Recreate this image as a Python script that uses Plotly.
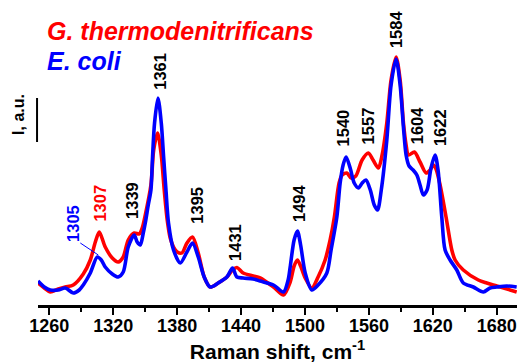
import plotly.graph_objects as go

# ---- data (Raman shift, cm-1 ; intensity, arbitrary units) ----
series_names = ["G. thermodenitrificans", "E. coli"]
series_colors = ["#FF0000", "#0000FF"]

wn_g = [1249.4, 1255.3, 1260.9, 1268.4, 1275.0, 1282.5, 1291.9, 1298.5, 1303.2, 1306.9,
        1312.5, 1319.1, 1324.7, 1329.4, 1334.1, 1339.7, 1344.4, 1347.2, 1350.1, 1355.4,
        1358.0, 1361.6, 1365.1, 1367.9, 1370.7, 1373.5, 1376.6, 1380.1, 1384.5, 1389.2,
        1394.4, 1399.8, 1405.4, 1411.0, 1418.5, 1426.7, 1432.0, 1436.1, 1442.0, 1451.4,
        1457.9, 1470.4, 1479.8, 1486.1, 1489.8, 1492.9, 1495.9, 1500.2, 1506.4, 1512.3,
        1518.9, 1523.6, 1527.6, 1532.0, 1534.9, 1539.3, 1543.3, 1547.7, 1553.6, 1559.5,
        1563.9, 1568.9, 1572.4, 1576.8, 1580.8, 1585.5, 1589.3, 1592.4, 1594.9, 1597.1,
        1602.7, 1608.0, 1613.7, 1617.4, 1620.5, 1623.0, 1626.8, 1632.4, 1637.8, 1640.9,
        1648.6, 1662.7, 1670.6, 1680.0, 1698.7]
int_g = [22, 17, 13, 16, 18, 20, 31, 45, 63, 73,
         58, 47, 43, 48, 65, 72, 71, 77, 90, 120,
         155, 172, 150, 115, 85, 67, 58, 53, 52, 62,
         68, 52, 28, 18, 22, 28, 35, 37.5, 32, 29,
         27, 18, 10, 23, 39, 45, 39, 27, 17, 28,
         45, 65, 88, 122, 130, 132, 127, 129, 145, 152,
         145, 137, 150, 182, 225, 248, 225, 182, 160, 150,
         153, 143, 132, 135, 140, 136, 120, 88, 55, 45,
         35, 25, 22, 19, 13]

wn_e = [1249.4, 1255.3, 1260.9, 1268.4, 1275.0, 1282.5, 1288.1, 1291.9, 1298.5, 1305.0,
        1308.8, 1312.5, 1319.1, 1324.7, 1329.4, 1334.1, 1339.7, 1342.5, 1345.4, 1348.2,
        1350.1, 1352.9, 1355.4, 1356.9, 1358.8, 1362.0, 1365.1, 1367.3, 1369.5, 1371.9,
        1376.6, 1382.9, 1389.2, 1394.4, 1399.8, 1405.4, 1411.0, 1418.5, 1426.7, 1432.0,
        1436.1, 1442.0, 1451.4, 1457.9, 1470.4, 1479.8, 1484.2, 1486.1, 1489.8, 1492.9,
        1495.9, 1500.2, 1506.4, 1512.3, 1520.5, 1524.5, 1529.9, 1533.0, 1535.8, 1538.6,
        1542.4, 1546.2, 1550.2, 1553.7, 1557.2, 1561.3, 1565.0, 1568.1, 1571.6, 1576.8,
        1580.8, 1585.5, 1589.3, 1592.4, 1594.9, 1597.7, 1601.5, 1605.0, 1608.0, 1611.1,
        1614.6, 1618.3, 1622.1, 1624.9, 1628.4, 1631.5, 1636.2, 1642.5, 1648.6, 1658.0,
        1667.4, 1673.7, 1680.0, 1689.4, 1698.7]
int_e = [24, 18, 15, 15, 17, 12, 15, 20, 32, 48,
         45, 38, 31, 28, 33, 58, 70, 63, 60, 72,
         82, 100, 115, 148, 182, 207, 182, 148, 115, 82,
         55, 42, 53, 62, 48, 28, 18, 22, 28, 37,
         28, 27, 26, 24, 20, 13, 25, 38, 65, 74,
         60, 32, 15, 20, 32, 55, 88, 122, 140, 148,
         137, 122, 117, 122, 125, 115, 100, 95, 115, 165,
         220, 246, 220, 178, 150, 139, 135, 130, 120, 110,
         115, 137, 150, 135, 88, 55, 45, 35, 22, 18,
         13, 17, 18, 19, 18]

# peak labels: text, x position, y position (centre), colour
peak_text = ["1305", "1307", "1339", "1361", "1395", "1431", "1494",
             "1540", "1557", "1584", "1604", "1622"]
peak_x = [1282.2, 1307.2, 1337.6, 1363.2, 1397.9, 1433.8, 1493.9,
          1536.1, 1559.5, 1585.5, 1604.9, 1626.8]
peak_y = [82, 102, 105, 233.5, 99.5, 62.5, 102.5, 177, 179, 276, 179.5, 177]
peak_col = ["#0000FF", "#FF0000", "black", "black", "black", "black", "black",
            "black", "black", "black", "black", "black"]

x_ticks = [1260, 1320, 1380, 1440, 1500, 1560, 1620, 1680]
x_minor = [1290, 1350, 1410, 1470, 1530, 1590, 1650]
x_range = [1249.4, 1699]
y_range = [0, 305]

FONT = "Liberation Sans, Arial, sans-serif"

fig = go.Figure()
for wn, inten, name, col in [(wn_g, int_g, series_names[0], series_colors[0]),
                             (wn_e, int_e, series_names[1], series_colors[1])]:
    fig.add_trace(go.Scatter(x=wn, y=inten, mode="lines", name=name,
                             line=dict(color=col, width=3.6, shape="spline", smoothing=0.8)))

annotations = []
for t, x, y, c in zip(peak_text, peak_x, peak_y, peak_col):
    annotations.append(dict(x=x, y=y, xref="x", yref="y", text=t, showarrow=False,
                            textangle=-90, xanchor="center", yanchor="middle",
                            font=dict(family=FONT, size=16.5, color=c, weight="bold")))

# legend-like coloured labels
annotations.append(dict(x=0.0146, y=0.898, xref="paper", yref="paper",
                        text="<i>" + series_names[0] + "</i>", showarrow=False,
                        xanchor="left", yanchor="middle",
                        font=dict(family=FONT, size=25, color=series_colors[0], weight="bold")))
annotations.append(dict(x=0.0146, y=0.8016, xref="paper", yref="paper",
                        text="<i>" + series_names[1] + "</i>", showarrow=False,
                        xanchor="left", yanchor="middle",
                        font=dict(family=FONT, size=25, color=series_colors[1], weight="bold")))
# y axis title
annotations.append(dict(x=-0.042, y=191, xref="paper", yref="y", text="I, a.u.",
                        showarrow=False, textangle=-90, xanchor="center", yanchor="middle",
                        font=dict(family=FONT, size=16, color="black", weight="bold")))

shapes = [
    # short vertical intensity bar
    dict(type="line", xref="paper", yref="y", x0=-0.002, x1=-0.002, y0=163, y1=207,
         line=dict(color="black", width=2)),
    # leader line for the 1305 label
    dict(type="line", xref="x", yref="y", x0=1289.1, y0=62, x1=1306.0, y1=50,
         line=dict(color="#0000FF", width=1)),
]

fig.update_layout(
    width=517, height=363,
    margin=dict(l=38, r=0, t=0, b=58, autoexpand=False),
    paper_bgcolor="white", plot_bgcolor="white",
    showlegend=False,
    annotations=annotations, shapes=shapes,
    xaxis=dict(range=x_range, tickmode="array", tickvals=x_ticks,
               ticktext=[str(v) for v in x_ticks], automargin=False,
               showline=True, linecolor="black", linewidth=2.5,
               ticks="outside", ticklen=7, tickwidth=2, tickcolor="black",
               ticklabelstandoff=-4,
               showgrid=False, zeroline=False,
               minor=dict(ticks="outside", ticklen=4, tickwidth=2, tickcolor="black",
                          tickvals=x_minor, showgrid=False),
               tickfont=dict(family=FONT, size=18, color="black", weight="bold"),
               title=dict(text="Raman shift, cm<sup>-1</sup>", standoff=9,
                          font=dict(family=FONT, size=21, color="black", weight="bold"))),
    yaxis=dict(range=y_range, visible=False, automargin=False),
)

fig.write_html("out.html",
               config={"displayModeBar": False},
               post_script="document.body.style.margin='0';document.body.style.padding='0';"
                           "document.body.style.overflow='hidden';")
